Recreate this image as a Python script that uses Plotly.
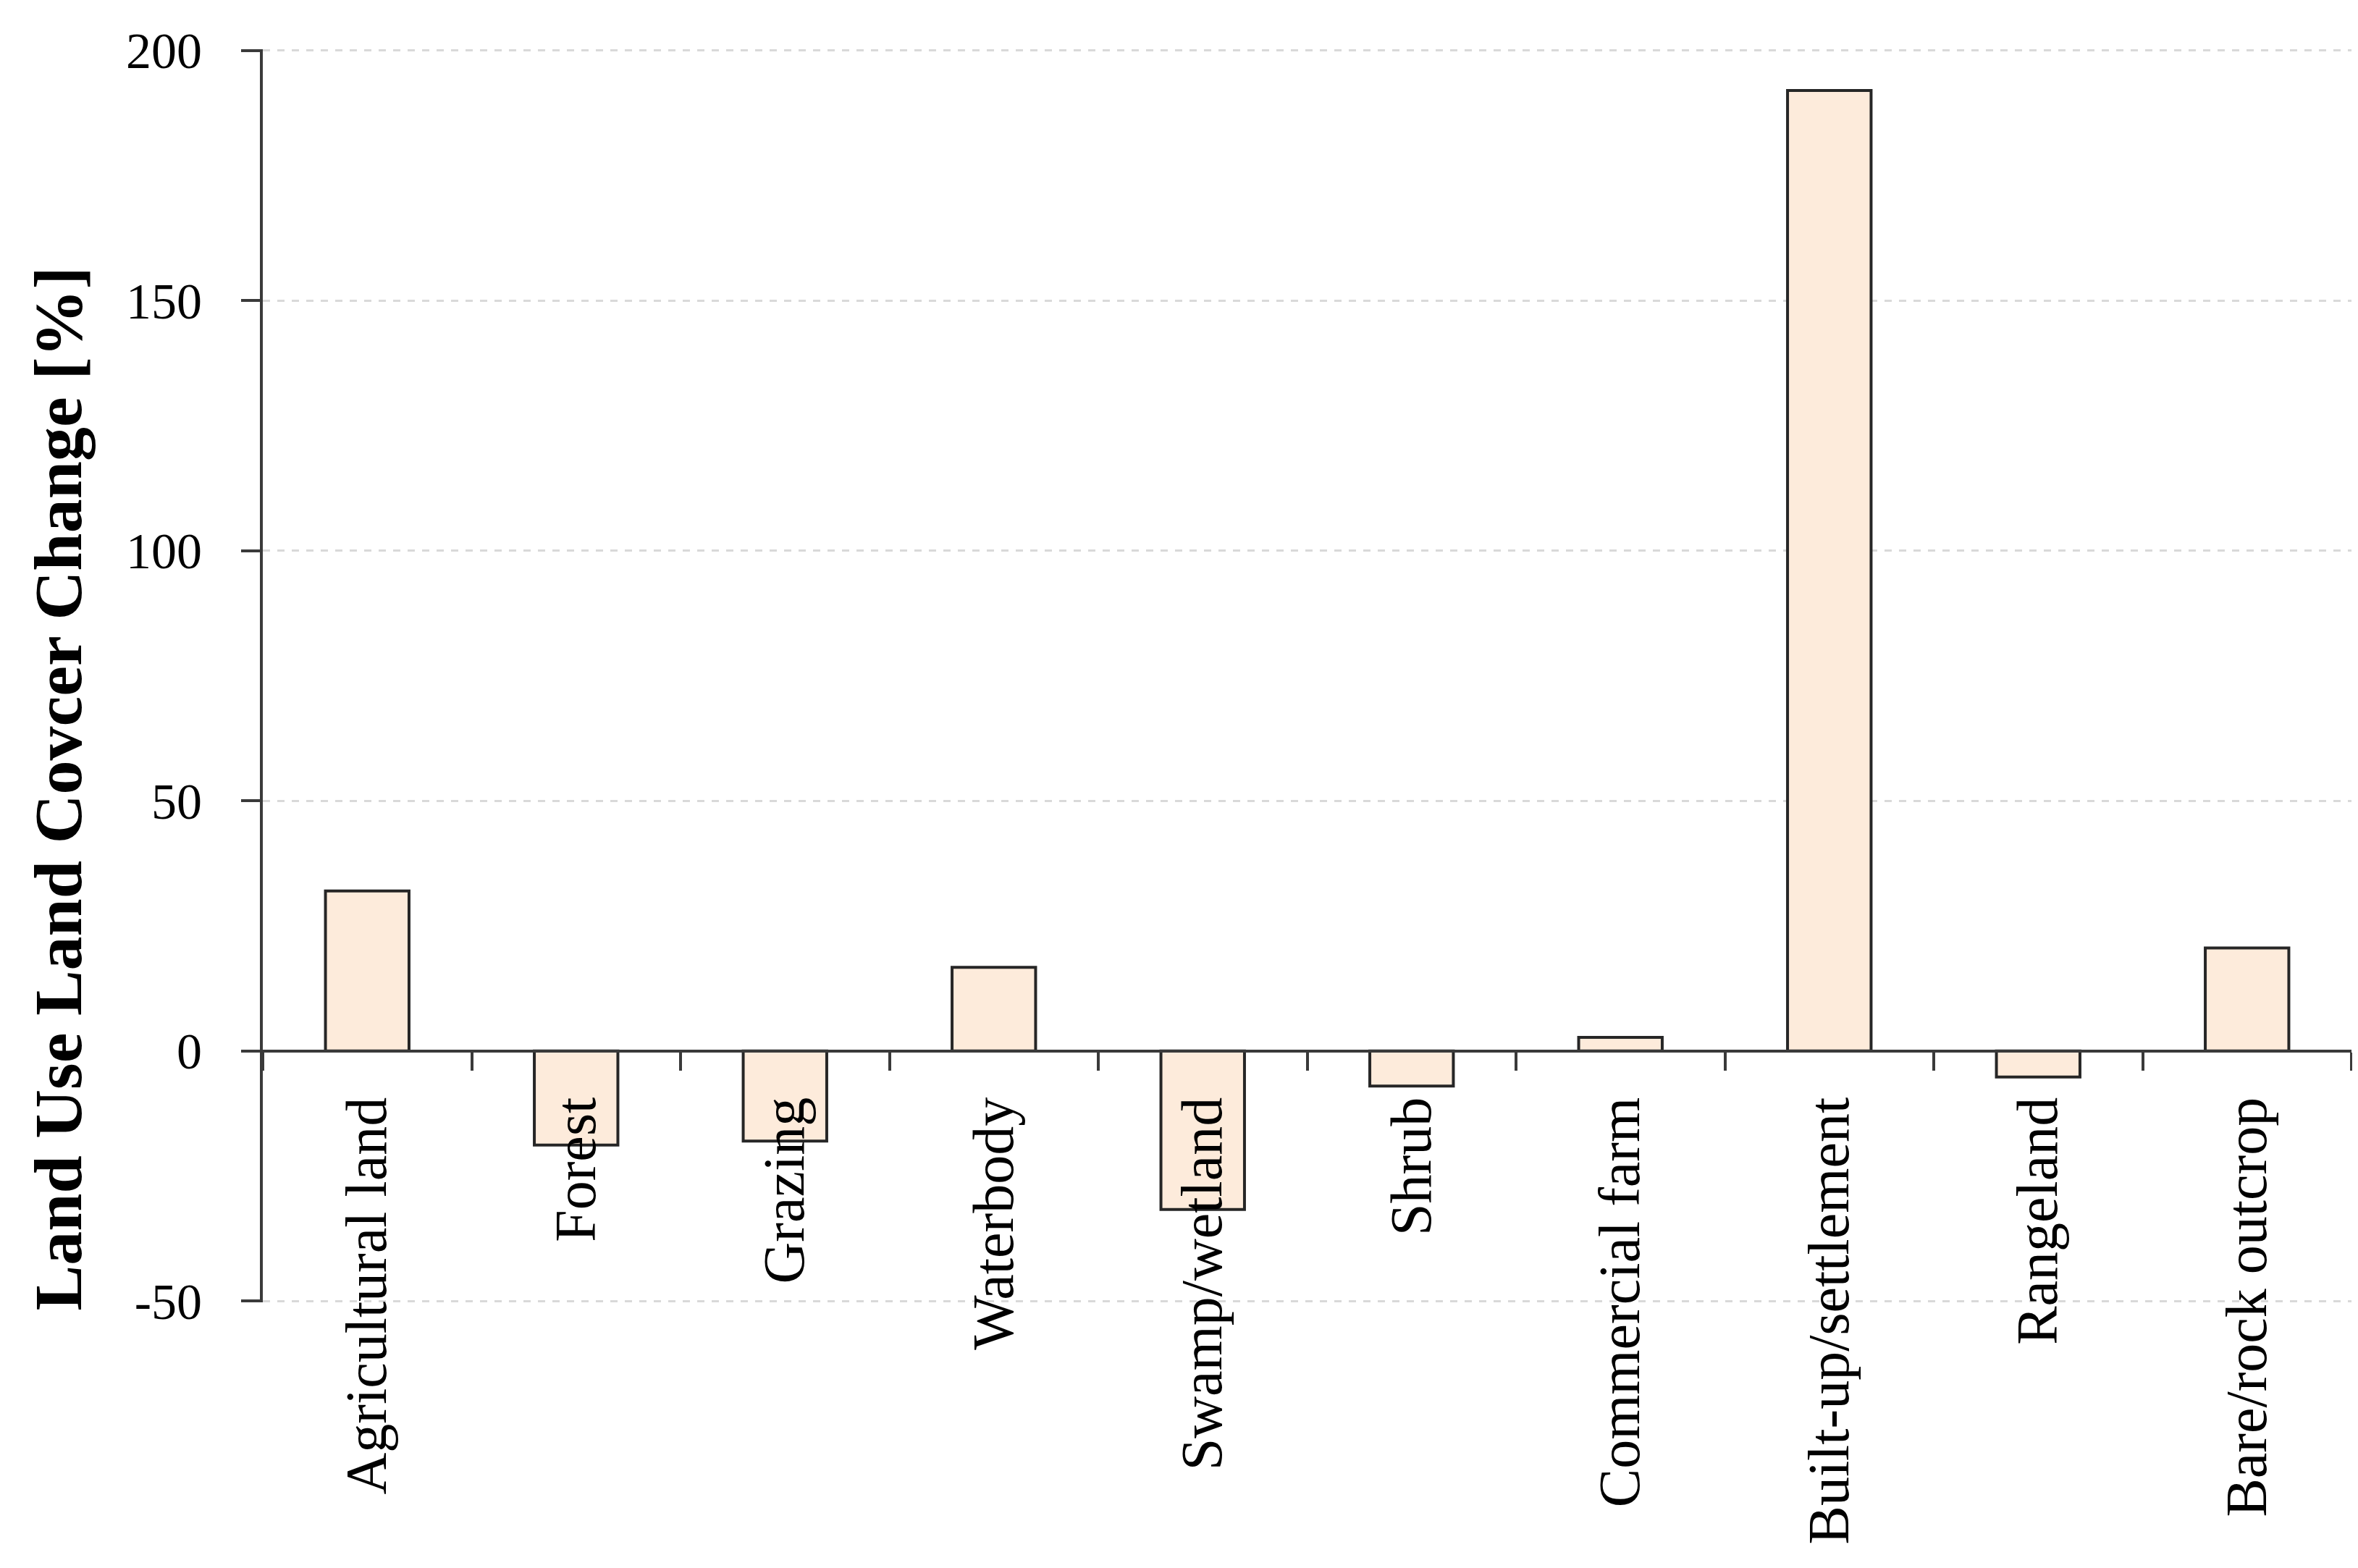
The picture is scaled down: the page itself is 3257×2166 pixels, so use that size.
import plotly.graph_objs as go

# Data
# --------------------------------------------------------------------------
categories = [
    "Agricultural land",
    "Forest",
    "Grazing",
    "Waterbody",
    "Swamp/wetland",
    "Shrub",
    "Commercial farm",
    "Built-up/settlement",
    "Rangeland",
    "Bare/rock outcrop",
]
change_pct = [32.0, -18.8, -18.0, 16.7, -31.7, -7.0, 2.7, 192.0, -5.2, 20.6]

y_ticks = [-50, 0, 50, 100, 150, 200]
# a hair of padding so the end gridlines (-50, 200) still get drawn
y_min, y_max = -50.25, 200.25

serif = "Palatino Linotype, Book Antiqua, Palatino, Liberation Serif, serif"
axis_color = "#3a3a3a"


def bar_chart(x, y):
    fig = go.Figure()
    fig.add_trace(
        go.Bar(
            x = x,
            y = y,
            width = 0.4,
            marker = dict(color = "#fdebdb", line = dict(color = "#262626", width = 4)),
        )
    )
    return fig


if __name__ == "__main__":

    fig = bar_chart(categories, change_pct)

    # x axis sits on the zero line
    zero_pos = (0 - y_min) / (y_max - y_min)

    fig.update_layout(
        width = 3257,
        height = 2166,
        template = "plotly_white",
        plot_bgcolor = "white",
        paper_bgcolor = "white",
        showlegend = False,
        margin = dict(l = 355, r = 17, t = 60, b = 375),
        font = dict(family = serif, color = "black"),
        xaxis = dict(
            range = [-0.5, 9.5],
            anchor = "free",
            position = zero_pos,
            showline = True,
            linecolor = axis_color,
            linewidth = 4,
            showgrid = False,
            ticks = "outside",
            tickson = "boundaries",
            ticklen = 25,
            tickwidth = 4,
            tickcolor = axis_color,
            tickangle = -90,
            tickfont = dict(size = 80, family = serif, color = "black"),
            ticklabelstandoff = 30,
            automargin = False,
        ),
        yaxis = dict(
            range = [y_min, y_max],
            tickvals = y_ticks,
            ticktext = [str(v) for v in y_ticks],
            showline = True,
            linecolor = axis_color,
            linewidth = 4,
            ticks = "outside",
            ticklen = 26,
            tickwidth = 4,
            tickcolor = axis_color,
            tickfont = dict(size = 70, family = serif, color = "black"),
            ticklabelstandoff = 40,
            showgrid = True,
            gridcolor = "#d9d9d9",
            gridwidth = 3,
            griddash = "10px,10px",
            zeroline = False,
            automargin = False,
        ),
    )

    # y title placed as an annotation (reference has it sitting lower than centre)
    fig.add_annotation(
        text = "<b>Land Use Land Covcer Change [%]</b>",
        xref = "paper",
        yref = "paper",
        x = -0.098,
        y = 0.41,
        xanchor = "center",
        yanchor = "middle",
        textangle = -90,
        showarrow = False,
        font = dict(size = 94, family = serif, color = "black"),
    )

    fig.write_html("out.html")
